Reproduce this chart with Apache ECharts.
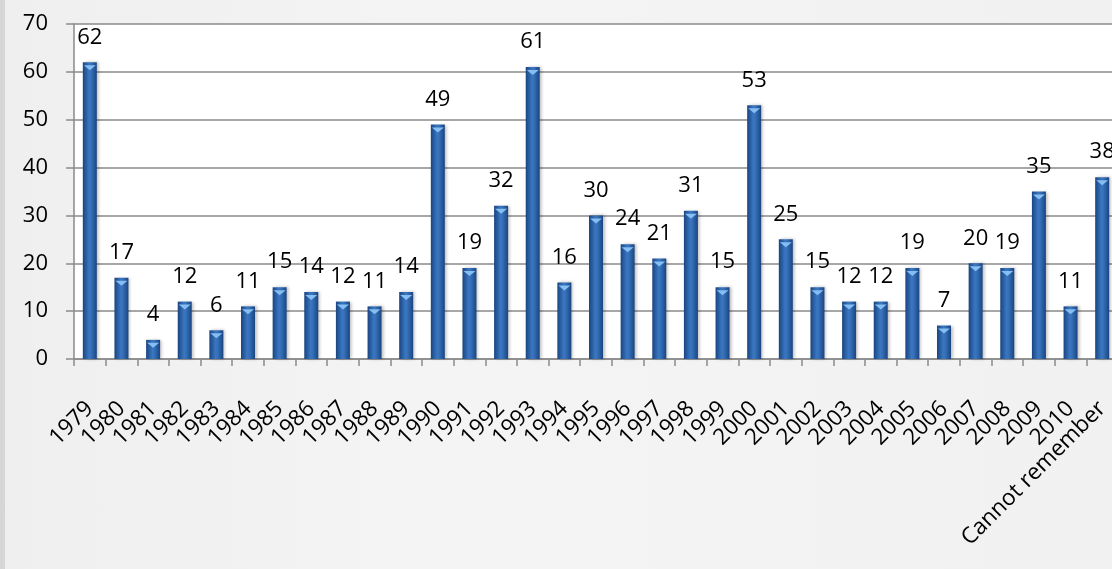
<!DOCTYPE html>
<html>
<head>
<meta charset="utf-8">
<script src="https://cdn.jsdelivr.net/npm/echarts@6/dist/echarts.min.js"></script>
<style>
  html, body { margin: 0; padding: 0; }
  body {
    width: 1112px; height: 569px; overflow: hidden;
    background: linear-gradient(90deg, #d6d6d6 0, #d6d6d6 5px, #efefef 5px, #f4f4f4 40%, #f1f1f1 100%);
  }
  #chart { width: 1112px; height: 569px; }
</style>
</head>
<body>
<div id="chart"></div>
<script>
const categories = ['1979', '1980', '1981', '1982', '1983', '1984', '1985', '1986', '1987', '1988',
  '1989', '1990', '1991', '1992', '1993', '1994', '1995', '1996', '1997', '1998', '1999', '2000',
  '2001', '2002', '2003', '2004', '2005', '2006', '2007', '2008', '2009', '2010', 'Cannot remember'];
const counts = [62, 17, 4, 12, 6, 11, 15, 14, 12, 11, 14, 49, 19, 32, 61, 16, 30, 24, 21, 31, 15, 53,
  25, 15, 12, 12, 19, 7, 20, 19, 35, 11, 38];

const FONT = "'Open Sans', 'DejaVu Sans', sans-serif";
const GRID_GREY = '#8a8a8a';

const chart = echarts.init(document.getElementById('chart'));

// bar body: dark edges, lighter middle
const barFill = new echarts.graphic.LinearGradient(0, 0, 1, 0, [
  { offset: 0, color: '#1a4580' },
  { offset: 0.45, color: '#3a77c2' },
  { offset: 0.6, color: '#356fb8' },
  { offset: 1, color: '#1a4580' }
]);

chart.setOption({
  animation: false,
  // plot area runs a few px past the right edge of the window, like the original
  grid: {
    left: 74, top: 24, width: 1044, bottom: 210,
    outerBoundsMode: 'none', containLabel: false,
    show: true, backgroundColor: '#ffffff', borderWidth: 0
  },
  xAxis: {
    type: 'category',
    data: categories,
    axisLine: { lineStyle: { color: GRID_GREY, width: 1.5 } },
    axisTick: { show: true, interval: 0, length: 7, lineStyle: { color: GRID_GREY, width: 1.5 } },
    axisLabel: { interval: 0, rotate: 45, margin: 46, color: '#000', fontSize: 22.5, fontFamily: FONT }
  },
  yAxis: {
    type: 'value', min: 0, max: 70, interval: 10,
    axisLine: { show: true, lineStyle: { color: GRID_GREY, width: 1.5 } },
    axisTick: { show: true, length: 8, lineStyle: { color: GRID_GREY, width: 1.5 } },
    splitLine: { lineStyle: { color: GRID_GREY, width: 1.5 } },
    axisLabel: { margin: 26, color: '#000', fontSize: 22, fontFamily: FONT }
  },
  series: [
    {
      type: 'bar',
      data: counts,
      barWidth: 14,
      itemStyle: { color: barFill, shadowColor: 'rgba(0,0,0,0.25)', shadowBlur: 3, shadowOffsetX: 2 },
      label: { show: true, position: 'top', distance: 14, color: '#000', fontSize: 22, fontFamily: FONT }
    },
    {
      // light bevel triangle on top of each bar
      type: 'pictorialBar',
      data: counts,
      barWidth: 14,
      barGap: '-100%',
      symbol: 'triangle',
      symbolRotate: 180,
      symbolSize: [12, 5],
      symbolPosition: 'end',
      symbolOffset: [0, 3],
      itemStyle: { color: '#86bdf2' },
      silent: true,
      z: 3
    }
  ]
});
</script>
</body>
</html>
